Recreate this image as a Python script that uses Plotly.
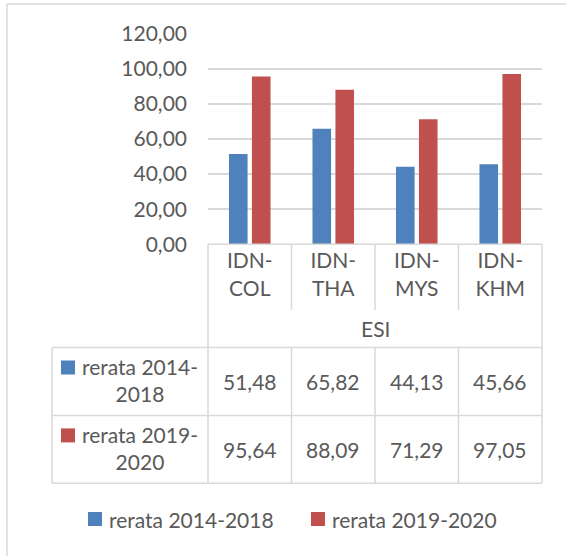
import plotly.graph_objects as go

# data
categories = ["IDN-COL", "IDN-THA", "IDN-MYS", "IDN-KHM"]
group_label = "ESI"
series_names = ["rerata 2014-2018", "rerata 2019-2020"]
rerata_2014_2018 = [51.48, 65.82, 44.13, 45.66]
rerata_2019_2020 = [95.64, 88.09, 71.29, 97.05]
y_ticks = [0, 20, 40, 60, 80, 100, 120]

W, H = 566, 556
FONT = "Lato"
TXT = "#595959"
GRID = "#d9d9d9"
BLUE = "#4f81bd"
RED = "#c0504d"
FS = 21


def px(x):
    return x / W


def py(y):
    return 1 - y / H


def fmt(v):
    return f"{v:.2f}".replace(".", ",")


fig = go.Figure()
for name, vals, col in [(series_names[0], rerata_2014_2018, BLUE),
                        (series_names[1], rerata_2019_2020, RED)]:
    fig.add_trace(go.Bar(x=categories, y=vals, name=name, marker_color=col,
                         marker_line_width=0, showlegend=False))

# table lines (gray)
x_left, x_plot, x_right = 52, 208, 542
y_axis, y_div, y_esi, y_r1, y_r2 = 244.3, 310, 347.5, 415.5, 483.3
col_w = (x_right - x_plot) / len(categories)
lines = [
    (x_plot, y_axis, x_right, y_axis),
    (x_left, y_esi, x_right, y_esi),
    (x_left, y_r1, x_right, y_r1),
    (x_left, y_r2, x_right, y_r2),
    (x_left, y_esi, x_left, y_r2),
    (x_plot, y_axis, x_plot, y_r2),
    (x_right, y_axis, x_right, y_r2),
]
for i in range(1, len(categories)):
    xc = x_plot + i * col_w
    lines.append((xc, y_axis, xc, y_div))
    lines.append((xc, y_esi, xc, y_r2))
# outer chart border (left and top visible)
lines.append((7, 4, 7, H))
lines.append((7, 4, W, 4))

shapes = []
for x0, y0, x1, y1 in lines:
    shapes.append(dict(type="line", xref="paper", yref="paper",
                       x0=px(x0), y0=py(y0), x1=px(x1), y1=py(y1),
                       line=dict(color=GRID, width=1.5)))

annotations = []
# row headers with colour keys
row_mid = [(y_esi + y_r1) / 2, (y_r1 + y_r2) / 2]
for name, col, ym in zip(series_names, [BLUE, RED], row_mid):
    shapes.append(dict(type="rect", xref="paper", yref="paper",
                       x0=px(61), x1=px(75), y0=py(ym - 21), y1=py(ym - 7),
                       fillcolor=col, line_width=0))
    a, b = name.split("-")
    annotations.append(dict(xref="paper", yref="paper", x=px(140), y=py(ym - 1.5),
                            text=a + "-<br>" + b, showarrow=False,
                            font=dict(family=FONT, size=FS, color=TXT),
                            xanchor="center", yanchor="middle", align="center"))
# values
for vals, ym in zip([rerata_2014_2018, rerata_2019_2020], row_mid):
    for c, v in zip(categories, vals):
        annotations.append(dict(xref="x", yref="paper", x=c, y=py(ym),
                                text=fmt(v), showarrow=False,
                                font=dict(family=FONT, size=FS, color=TXT),
                                xanchor="center", yanchor="middle"))
annotations.append(dict(xref="paper", yref="paper", x=px((x_plot + x_right) / 2),
                        y=py(328), text=group_label, showarrow=False,
                        font=dict(family=FONT, size=FS, color=TXT),
                        xanchor="center", yanchor="middle"))

# legend at the bottom
for name, col, xs in zip(series_names, [BLUE, RED], [88, 311]):
    shapes.append(dict(type="rect", xref="paper", yref="paper",
                       x0=px(xs), x1=px(xs + 14), y0=py(526), y1=py(512),
                       fillcolor=col, line_width=0))
    annotations.append(dict(xref="paper", yref="paper", x=px(xs + 19), y=py(519),
                            text=name, showarrow=False,
                            font=dict(family=FONT, size=FS, color=TXT),
                            xanchor="left", yanchor="middle"))

fig.update_layout(
    width=W, height=H, autosize=False,
    margin=dict(l=0, r=0, t=0, b=0, autoexpand=False),
    paper_bgcolor="white", plot_bgcolor="white",
    separators=",.",
    font=dict(family=FONT, size=FS, color=TXT),
    barmode="group", bargap=0.45, bargroupgap=0.19,
    shapes=shapes, annotations=annotations,
    showlegend=False,
    xaxis=dict(domain=[px(x_plot), px(x_right)], showgrid=False, showline=False,
               tickvals=categories,
               ticktext=[c.replace("-", "-<br>") for c in categories],
               ticklabelstandoff=2, tickfont=dict(size=FS, color=TXT)),
    yaxis=dict(domain=[py(y_axis), py(33.7)], range=[0, 120],
               tickvals=y_ticks, tickformat=".2f",
               showgrid=True, gridcolor=GRID, gridwidth=1.5,
               zeroline=False, showline=False,
               ticklabelstandoff=20, tickfont=dict(size=FS, color=TXT)),
)

fig.write_html("out.html", config={"displayModeBar": False},
               post_script="document.body.style.margin='0';")
